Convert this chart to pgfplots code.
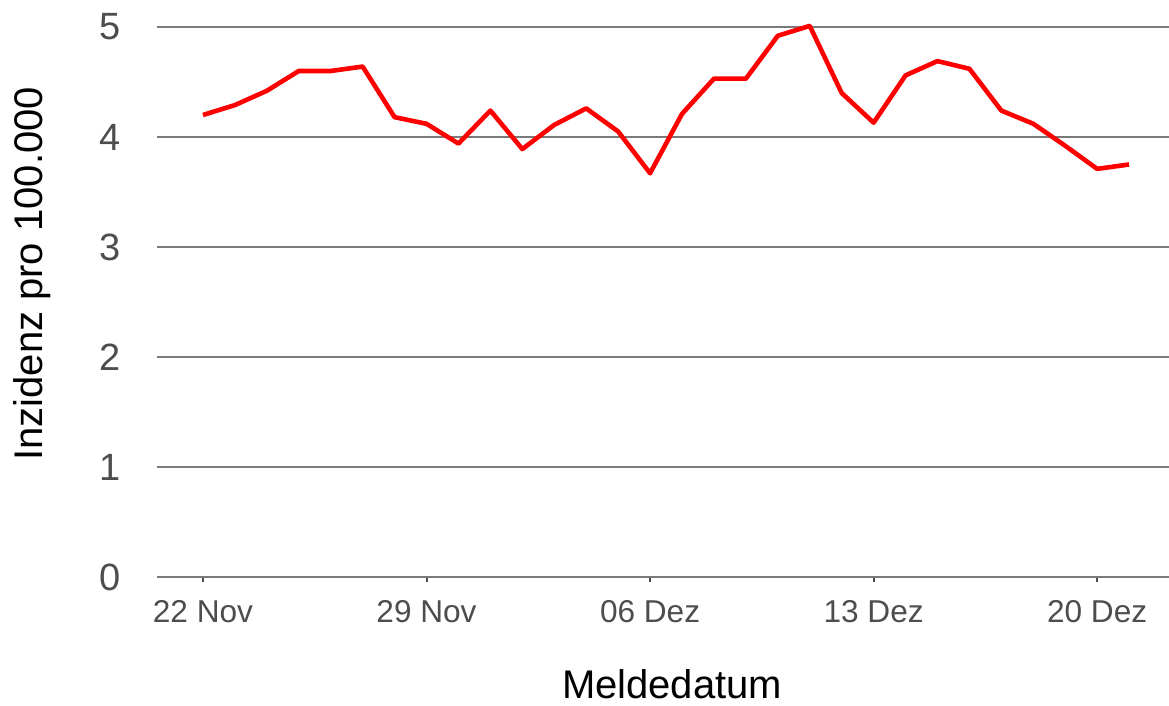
\documentclass[border=0pt]{standalone}
\usepackage{pgfplots}
\pgfplotsset{compat=1.18}
\usepackage{fontspec}
\setmainfont{Liberation Sans}
\definecolor{gridgray}{HTML}{7A7A7A}
\definecolor{ticktext}{HTML}{4D4D4D}
\begin{document}
\begin{tikzpicture}
\begin{axis}[
name=ax,
width=506pt,
height=286pt,
scale only axis,
xmin=-1.44, xmax=30.25,
ymin=0, ymax=5.2,
axis x line*=bottom,
axis y line*=left,
x axis line style={draw=gridgray, line width=1pt, -},
y axis line style={draw=none},
xtick={0,7,14,21,28},
xticklabels={22 Nov,29 Nov,06 Dez,13 Dez,20 Dez},
ytick={0,1,2,3,4,5},
tick align=outside,
major tick length=2.75pt,
xtick style={draw=ticktext, line width=1pt},
ytick style={draw=none},
ymajorgrids,
grid style={draw=gridgray, line width=1pt},
/pgf/number format/assume math mode=true,
xticklabel style={anchor=north, inner sep=0pt, yshift=-9pt, text=ticktext, font=\fontsize{15.8}{18}\selectfont},
yticklabel style={anchor=east, inner sep=0pt, xshift=-15pt, text=ticktext, font=\fontsize{19}{22}\selectfont},
xlabel={Meldedatum},
ylabel={Inzidenz pro 100.000},
xlabel style={at={(axis description cs:0.509,-0.213)}, anchor=base, inner sep=0pt, font=\fontsize{20}{24}\selectfont},
ylabel style={at={(axis description cs:-0.1136,0.53)}, anchor=base, inner sep=0pt, font=\fontsize{20}{24}\selectfont},
]
\addplot [color=red, line width=2.3pt, line join=round, mark=none]
table[row sep=crcr]{
0 4.20\\
1 4.29\\
2 4.42\\
3 4.60\\
4 4.60\\
5 4.64\\
6 4.18\\
7 4.12\\
8 3.94\\
9 4.24\\
10 3.89\\
11 4.11\\
12 4.26\\
13 4.05\\
14 3.67\\
15 4.21\\
16 4.53\\
17 4.53\\
18 4.92\\
19 5.01\\
20 4.40\\
21 4.13\\
22 4.56\\
23 4.69\\
24 4.62\\
25 4.24\\
26 4.12\\
27 3.92\\
28 3.71\\
29 3.75\\
};
\end{axis}
\pgfresetboundingbox
\path[use as bounding box] ([shift={(-78.5pt,-64.5pt)}]ax.south west) rectangle ([shift={(0pt,2.5pt)}]ax.north east);
\end{tikzpicture}
\end{document}
